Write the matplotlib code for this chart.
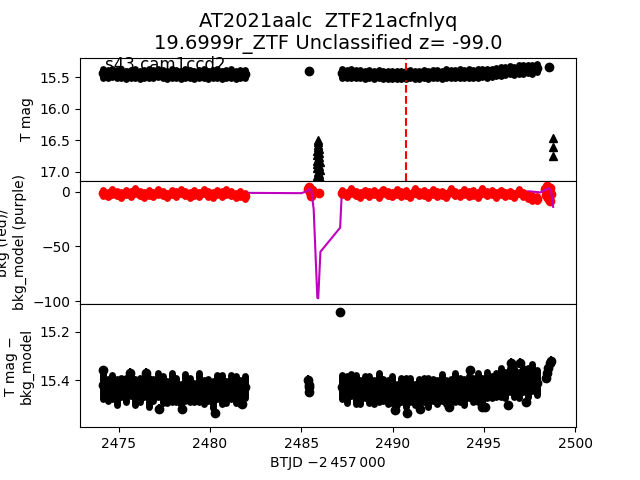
import numpy as np
import matplotlib
matplotlib.use("Agg")
import matplotlib.pyplot as plt

# ---- data (BTJD - 2457000) ----
seg1_span = (2474.15, 2481.90)
seg3_span = (2487.25, 2497.90)

# top panel: T mag (detections)
tmag_seg1 = [15.44, 15.45, 15.43, 15.45, 15.44, 15.46, 15.45, 15.44, 15.46, 15.45,
             15.44, 15.45, 15.43, 15.45, 15.46, 15.44, 15.45, 15.46, 15.44, 15.45,
             15.46, 15.45, 15.44, 15.46, 15.45, 15.44, 15.46, 15.45, 15.44, 15.46,
             15.45, 15.45]
tmag_seg3 = [15.44, 15.45, 15.44, 15.45, 15.45, 15.46, 15.45, 15.46, 15.45, 15.46,
             15.46, 15.47, 15.46, 15.47, 15.46, 15.45, 15.46, 15.46, 15.45, 15.46,
             15.45, 15.45, 15.46, 15.44, 15.45, 15.45, 15.44, 15.45, 15.44, 15.45,
             15.44, 15.43, 15.44, 15.43, 15.42, 15.41, 15.40, 15.39, 15.40, 15.38,
             15.38, 15.37, 15.38, 15.36]
tmag_single_t = [2485.45, 2498.55]
tmag_single = [15.41, 15.34]
tmag_err = 0.065

# top panel: triangles
tri_t = [2485.93, 2485.91, 2485.94, 2485.89, 2485.95, 2485.87, 2485.97, 2485.86,
         2485.99, 2485.90, 2485.85, 2486.00, 2485.88, 2485.96, 2485.86, 2486.01,
         2485.90, 2485.97, 2485.87, 2486.00, 2485.92, 2485.86, 2485.98,
         2498.78, 2498.78, 2498.79]
tri_mag = [16.49, 16.53, 16.57, 16.61, 16.64, 16.67, 16.70, 16.73,
           16.76, 16.79, 16.82, 16.85, 16.88, 16.91, 16.94, 16.97,
           17.00, 17.03, 17.06, 17.09, 17.12, 17.15, 17.18,
           16.47, 16.60, 16.75]
peak_t = 2490.72

# middle panel: bkg (red)
bkg_seg1 = [-1.5, -2.8, -0.5, -2.0, -3.2, -1.0, -2.2, 0.3, -1.8, -3.0,
            -1.2, -2.5, -0.4, -2.0, -3.5, -1.1, -2.4, -0.2, -1.9, -3.1,
            -1.3, -2.6, 0.0, -2.1, -3.3, -1.0, -2.3, -0.6, -1.9, -3.6,
            -2.2, -4.0]
bkg_seg3 = [-1.0, -2.5, 0.5, -2.0, -3.0, -0.8, -2.2, -1.0, -3.3, 0.2,
            -1.8, -2.9, -0.6, -2.4, -1.5, -3.4, 0.4, -2.0, -1.2, -3.0,
            -0.3, -2.2, -1.7, -3.6, 0.8, -1.9, -2.7, -0.5, -2.3, -1.4,
            -3.2, 0.3, -2.0, -1.1, -3.0, -0.7, -2.5, -1.6, -3.4, -0.2,
            -2.6, -4.5, -5.8, -6.5]
bkg_extra_t = [2485.35, 2485.42, 2485.48, 2485.55, 2485.60, 2485.98,
               2498.35, 2498.40, 2498.45, 2498.50, 2498.55, 2498.60, 2498.65, 2498.70]
bkg_extra = [2.0, 4.0, -0.5, -4.0, 1.5, -1.0,
             2.0, -3.0, 5.0, -6.0, 1.0, -8.5, 3.5, -2.0]
bkg_err = 2.5

# middle panel: bkg_model (purple)
model_t = [2474.15, 2475.5, 2477.0, 2478.5, 2480.0, 2481.0, 2481.9, 2485.0,
           2485.35, 2485.45, 2485.55, 2485.68, 2485.88, 2485.93, 2486.05,
           2487.13, 2487.22, 2487.30, 2488.5, 2490.0, 2491.5, 2492.0, 2493.5,
           2495.0, 2496.5, 2497.5, 2498.1, 2498.55, 2498.68, 2498.80]
model_val = [-0.3, -0.2, -0.6, -0.4, -0.8, -0.3, -1.2, -1.5,
             0.5, 2.5, 1.0, -16.0, -97.0, -97.5, -55.0,
             -33.0, -1.0, 0.5, -0.2, -0.5, -0.3, 0.3, -0.4,
             -0.2, -0.5, 0.2, -0.8, 3.0, 1.0, -14.0]

# bottom panel: T mag - bkg_model
cmag_seg1 = [15.42, 15.44, 15.43, 15.45, 15.43, 15.44, 15.42, 15.45, 15.44, 15.43,
             15.45, 15.44, 15.42, 15.44, 15.45, 15.43, 15.44, 15.46, 15.43, 15.44,
             15.45, 15.43, 15.45, 15.44, 15.46, 15.43, 15.44, 15.45, 15.43, 15.44,
             15.45, 15.43]
cerr_seg1 = [0.06, 0.045, 0.05, 0.055, 0.04, 0.05, 0.045, 0.055, 0.05, 0.04,
             0.06, 0.045, 0.05, 0.055, 0.045, 0.06, 0.05, 0.045, 0.055, 0.05,
             0.04, 0.06, 0.05, 0.045, 0.055, 0.05, 0.06, 0.045, 0.05, 0.055,
             0.05, 0.045]
cmag_seg3 = [15.43, 15.44, 15.42, 15.44, 15.45, 15.43, 15.44, 15.45, 15.43, 15.44,
             15.45, 15.44, 15.46, 15.44, 15.45, 15.44, 15.46, 15.45, 15.44, 15.45,
             15.44, 15.45, 15.43, 15.45, 15.44, 15.43, 15.44, 15.45, 15.43, 15.44,
             15.43, 15.44, 15.42, 15.43, 15.42, 15.41, 15.42, 15.40, 15.41, 15.42,
             15.40, 15.41, 15.39, 15.41]
cerr_seg3 = [0.05, 0.055, 0.045, 0.06, 0.05, 0.045, 0.055, 0.05, 0.06, 0.045,
             0.05, 0.055, 0.045, 0.05, 0.06, 0.05, 0.045, 0.055, 0.05, 0.06,
             0.045, 0.05, 0.055, 0.05, 0.045, 0.06, 0.05, 0.055, 0.045, 0.05,
             0.06, 0.05, 0.055, 0.045, 0.05, 0.06, 0.055, 0.05, 0.06, 0.055,
             0.05, 0.06, 0.055, 0.05]
cmag_extra_t = [2474.16, 2475.6, 2476.5, 2477.2, 2478.45, 2480.3, 2481.75,
                2485.38, 2485.42, 2485.45, 2485.40, 2487.13,
                2490.14, 2490.78, 2491.5, 2493.1, 2494.25, 2494.9, 2495.07,
                2496.3, 2496.5, 2496.99, 2497.3,
                2498.40, 2498.47, 2498.53, 2498.60, 2498.66]
cmag_extra = [15.36, 15.37, 15.37, 15.52, 15.52, 15.535, 15.50,
              15.40, 15.43, 15.45, 15.42, 15.12,
              15.525, 15.535, 15.52, 15.51, 15.36, 15.51, 15.51,
              15.505, 15.33, 15.33, 15.49,
              15.39, 15.37, 15.35, 15.33, 15.32]
cmag_extra_err = 0.02


def band(ax, t, m, e, color="k", ms=6, lw=5):
    cont = ax.errorbar(t, m, yerr=e, fmt="o", color=color, ms=ms,
                       elinewidth=lw, capsize=0)
    for lc in cont[2]:
        lc.set_capstyle("round")
    return cont


t1 = np.linspace(*seg1_span, len(tmag_seg1))
t3 = np.linspace(*seg3_span, len(tmag_seg3))

fig, (ax1, ax2, ax3) = plt.subplots(3, 1, sharex=True, figsize=(6.4, 4.8), dpi=100)
fig.subplots_adjust(hspace=0)

# top panel
band(ax1, t1, tmag_seg1, tmag_err)
band(ax1, t3, tmag_seg3, tmag_err)
ax1.errorbar(tmag_single_t, tmag_single, yerr=0.02, fmt="o", color="k", ms=6)
ax1.plot(tri_t, tri_mag, "^", color="k", ms=6)
ax1.axvline(peak_t, color="r", ls="--", lw=1.5)
ax1.set_ylim(17.14, 15.19)
ax1.set_yticks([15.5, 16.0, 16.5, 17.0])
ax1.set_ylabel("T mag")
ax1.text(0.05, 0.9, "s43 cam1ccd2", transform=ax1.transAxes, fontsize=12)
ax1.set_title("AT2021aalc  ZTF21acfnlyq\n19.6999r_ZTF Unclassified z= -99.0",
              fontsize=14)

# middle panel
band(ax2, t1, bkg_seg1, bkg_err, color="r", lw=5)
band(ax2, t3, bkg_seg3, bkg_err, color="r", lw=5)
ax2.plot(bkg_extra_t, bkg_extra, "o", color="r", ms=6)
ax2.plot(model_t, model_val, "-", color="m", lw=1.5)
ax2.set_ylim(-102.7, 9.8)
ax2.set_yticks([0, -50, -100])
ax2.set_ylabel("bkg (red)/\nbkg_model (purple)")

# bottom panel
band(ax3, t1, cmag_seg1, cerr_seg1)
band(ax3, t3, cmag_seg3, cerr_seg3)
ax3.errorbar(cmag_extra_t, cmag_extra, yerr=cmag_extra_err, fmt="o", color="k", ms=6)
ax3.set_ylim(15.595, 15.085)
ax3.set_yticks([15.2, 15.4])
ax3.set_ylabel("T mag \u2212\nbkg_model")

ax3.set_xlim(2472.88, 2500.05)
ax3.set_xticks([2475, 2480, 2485, 2490, 2495, 2500])
ax3.set_xlabel("BTJD \u22122\u2009457\u2009000")

fig.savefig("out.png", dpi=100)
